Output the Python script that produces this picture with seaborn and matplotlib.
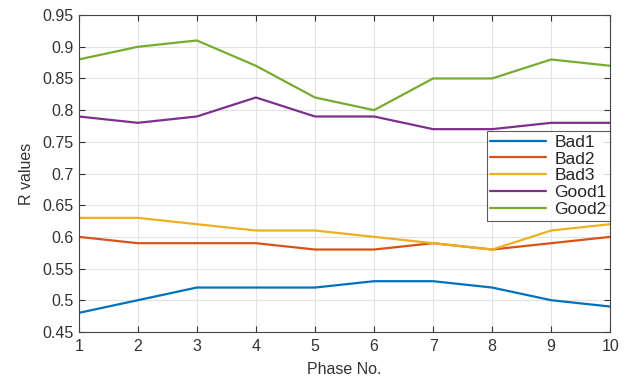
import numpy as np
import pandas as pd
import matplotlib
matplotlib.use("Agg")
import matplotlib.pyplot as plt
import seaborn as sns

# values
phases = [1, 2, 3, 4, 5, 6, 7, 8, 9, 10]
bad1 = [0.48, 0.50, 0.52, 0.52, 0.52, 0.53, 0.53, 0.52, 0.50, 0.49]
bad2 = [0.60, 0.59, 0.59, 0.59, 0.58, 0.58, 0.59, 0.58, 0.59, 0.60]
bad3 = [0.63, 0.63, 0.62, 0.61, 0.61, 0.60, 0.59, 0.58, 0.61, 0.62]
good1 = [0.79, 0.78, 0.79, 0.82, 0.79, 0.79, 0.77, 0.77, 0.78, 0.78]
good2 = [0.88, 0.90, 0.91, 0.87, 0.82, 0.80, 0.85, 0.85, 0.88, 0.87]
series_names = ["Bad1", "Bad2", "Bad3", "Good1", "Good2"]
colors = ["#0072BD", "#D95319", "#EDB120", "#7E2F8E", "#77AC30"]

df = pd.DataFrame({"Phase": phases, "Bad1": bad1, "Bad2": bad2, "Bad3": bad3,
                   "Good1": good1, "Good2": good2})
long = df.melt(id_vars="Phase", var_name="Series", value_name="R")

sns.set_style("white")
plt.rcParams["font.family"] = ["Liberation Sans", "DejaVu Sans"]

fig = plt.figure(figsize=(6.35, 3.78), dpi=100)
ax = fig.add_axes([0.124, 0.122, 0.837, 0.838])

sns.lineplot(data=long, x="Phase", y="R", hue="Series", hue_order=series_names,
             palette=colors, linewidth=1.6, ax=ax)

ax.set_xlim(1, 10)
ax.set_ylim(0.45, 0.95)
ax.set_xticks(phases)
ax.set_yticks(np.arange(0.45, 0.951, 0.05))
ax.set_yticklabels(["0.45", "0.5", "0.55", "0.6", "0.65", "0.7", "0.75",
                    "0.8", "0.85", "0.9", "0.95"])
ax.grid(True, color="#e3e3e3", linewidth=0.8)
ax.set_axisbelow(True)
for s in ax.spines.values():
    s.set_color("#444444")
    s.set_linewidth(0.8)
ax.tick_params(axis="both", direction="in", length=4, colors="#333333",
               labelsize=11.5, top=True, right=True, left=True, bottom=True,
               labelcolor="#333333")
ax.tick_params(axis="x", pad=5)
ax.set_xlabel("Phase No.", fontsize=11.5, color="#333333", labelpad=6)
ax.set_ylabel("R values", fontsize=11.5, color="#333333", labelpad=6)

leg = ax.legend(loc="upper right", bbox_to_anchor=(1.0, 0.634), fontsize=12.5,
                frameon=True, fancybox=False, edgecolor="#333333",
                borderpad=0.2, labelspacing=0.1, handlelength=3.2,
                handletextpad=0.5, borderaxespad=0)
leg.get_frame().set_linewidth(0.8)

fig.savefig("out.png", dpi=100)
